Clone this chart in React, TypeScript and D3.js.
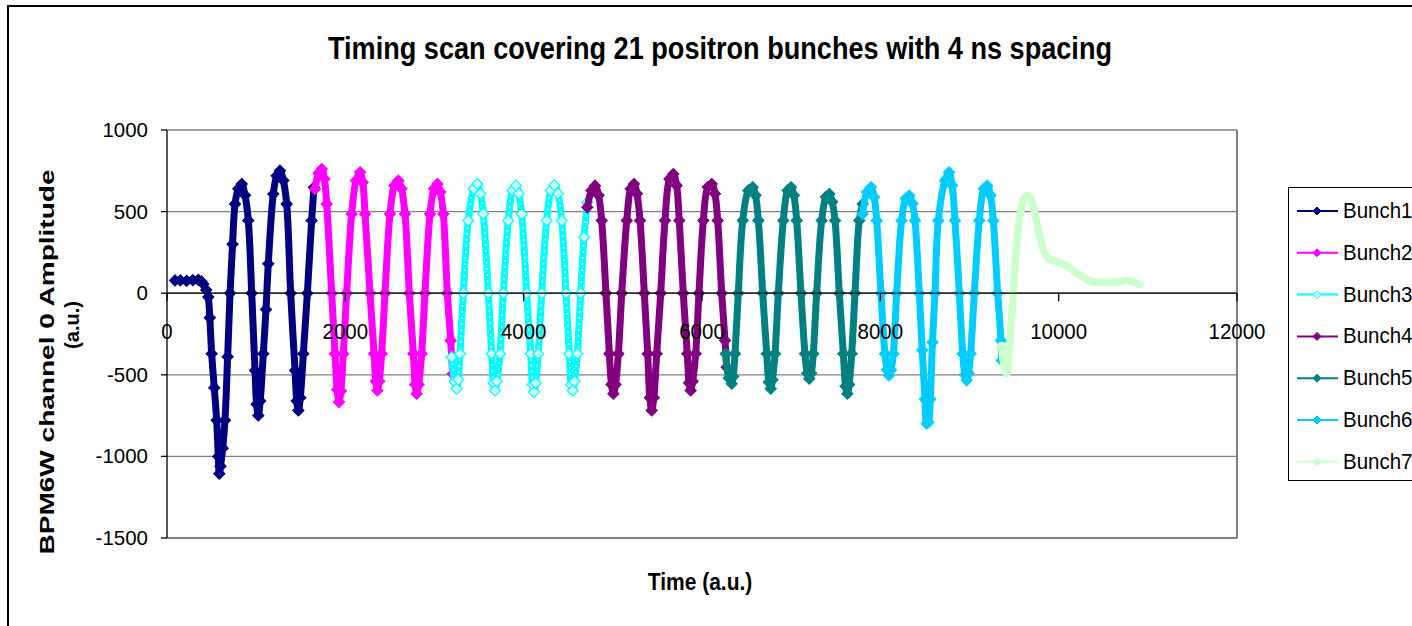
import React from "react";
import { scaleLinear, line, curveCatmullRom } from "d3";

// time (a.u.), amplitude (a.u.), one array per bunch group
const bunch1: [number, number][] = [
  [90, 78], [150, 78], [220, 76], [290, 80], [351, 82], [385, 72], [407, 57], [440, 20],
  [463, -24], [480, -150], [501, -371], [530, -580], [557, -779], [575, -1000], [587, -1106],
  [600, -1060], [625, -950], [650, -779], [680, -390], [707, 0], [735, 300], [763, 547],
  [800, 640], [838, 669], [875, 600], [912, 445], [950, 0], [987, -473], [1005, -680],
  [1024, -749], [1045, -660], [1080, -371], [1110, -100], [1136, 180], [1192, 608],
  [1230, 720], [1267, 751], [1305, 690], [1342, 547], [1387, 0], [1436, -473], [1455, -660],
  [1473, -718], [1495, -640], [1529, -371], [1574, 0], [1622, 445], [1649, 649],
];

const bunch2: [number, number][] = [
  [1660, 639], [1700, 735], [1735, 761], [1765, 700], [1791, 547], [1847, 0], [1884, -371],
  [1908, -590], [1929, -667], [1950, -600], [1977, -371], [2015, 0], [2071, 486], [2120, 690],
  [2165, 741], [2195, 680], [2221, 486], [2277, 0], [2322, -371], [2342, -540], [2359, -596],
  [2380, -540], [2407, -371], [2445, 0], [2501, 486], [2550, 660], [2594, 690], [2630, 640],
  [2669, 486], [2718, 0], [2763, -371], [2783, -560], [2800, -616], [2822, -560], [2856, -371],
  [2893, 0], [2950, 486], [2995, 640], [3032, 669], [3065, 620], [3099, 486], [3144, 0],
  [3181, -290], [3204, -494],
];

const bunch3: [number, number][] = [
  [3193, -392], [3225, -540], [3249, -585], [3265, -530], [3286, -371], [3323, 0], [3379, 445],
  [3440, 640], [3480, 669], [3515, 610], [3547, 486], [3604, 0], [3641, -371], [3662, -550],
  [3679, -596], [3700, -540], [3735, -371], [3772, 0], [3828, 445], [3875, 630], [3914, 659],
  [3945, 610], [3978, 486], [4034, 0], [4079, -371], [4100, -560], [4116, -606], [4135, -550],
  [4164, -371], [4202, 0], [4258, 445], [4305, 630], [4345, 662], [4385, 610], [4427, 445],
  [4475, 0], [4512, -371], [4532, -560], [4550, -596], [4570, -540], [4602, -371], [4640, 0],
  [4677, 343], [4714, 557],
];

const bunch4: [number, number][] = [
  [4714, 526], [4760, 630], [4800, 659], [4840, 600], [4875, 445], [4923, 0], [4961, -371],
  [4985, -560], [5006, -616], [5030, -560], [5062, -371], [5100, 0], [5156, 445], [5200, 640],
  [5237, 669], [5270, 610], [5305, 445], [5353, 0], [5391, -371], [5415, -640], [5436, -718],
  [5460, -640], [5492, -371], [5537, 0], [5585, 445], [5635, 700], [5678, 730], [5715, 660],
  [5745, 445], [5790, 0], [5835, -371], [5855, -550], [5873, -596], [5895, -540], [5929, -371],
  [5966, 0], [6015, 445], [6065, 650], [6109, 669], [6145, 610], [6176, 445], [6221, 0],
  [6258, -290], [6277, -453],
];

const bunch5: [number, number][] = [
  [6266, -371], [6300, -520], [6333, -555], [6350, -510], [6370, -371], [6407, 0], [6457, 445],
  [6520, 630], [6568, 649], [6600, 600], [6632, 445], [6681, 0], [6726, -371], [6750, -545],
  [6771, -585], [6790, -530], [6819, -371], [6856, 0], [6912, 445], [6960, 630], [6998, 649],
  [7030, 600], [7062, 445], [7110, 0], [7155, -371], [7180, -490], [7203, -524], [7225, -490],
  [7248, -371], [7286, 0], [7342, 445], [7390, 590], [7428, 608], [7460, 560], [7492, 445],
  [7540, 0], [7585, -371], [7610, -570], [7630, -616], [7650, -560], [7679, -371], [7716, 0],
  [7764, 445], [7802, 547],
];

const bunch6: [number, number][] = [
  [7802, 486], [7850, 620], [7895, 649], [7930, 590], [7959, 445], [8007, 0], [8052, -371],
  [8075, -470], [8097, -504], [8120, -470], [8146, -371], [8183, 0], [8239, 445], [8285, 580],
  [8325, 598], [8360, 550], [8389, 445], [8437, 0], [8470, -350], [8500, -650], [8520, -800],
  [8540, -790], [8560, -650], [8585, -300], [8613, 0], [8650, 445], [8725, 690], [8770, 741],
  [8805, 660], [8837, 445], [8886, 0], [8924, -371], [8948, -500], [8968, -534], [8990, -490],
  [9013, -371], [9054, 0], [9110, 445], [9160, 640], [9200, 659], [9235, 600], [9267, 445],
  [9316, 0], [9353, -290], [9361, -412],
];

const bunch7: [number, number][] = [
  [9361, -320], [9390, -450], [9417, -494], [9435, -420], [9454, -290], [9491, 0], [9536, 343],
  [9580, 520], [9620, 590], [9660, 598], [9700, 560], [9735, 486], [9791, 343], [9847, 241],
  [9890, 210], [9940, 200], [10000, 190], [10052, 180], [10110, 160], [10164, 139],
  [10220, 115], [10276, 98], [10350, 75], [10426, 67], [10520, 66], [10613, 67], [10700, 72],
  [10763, 78], [10830, 70], [10912, 51],
];

const seriesNames = ["Bunch1", "Bunch2", "Bunch3", "Bunch4", "Bunch5", "Bunch6", "Bunch7"];
const seriesData = [bunch1, bunch2, bunch3, bunch4, bunch5, bunch6, bunch7];
const seriesColors = ["#000080", "#FF00FF", "#00FFFF", "#800080", "#008080", "#00CCFF", "#CCFFCC"];
const markerFills = ["#000080", "#FF00FF", "#CCFFFF", "#800080", "#008080", "#00CCFF", "#CCFFCC"];

const xTicks = [0, 2000, 4000, 6000, 8000, 10000, 12000];
const yTicks = [-1500, -1000, -500, 0, 500, 1000];

const title = "Timing scan covering 21 positron bunches with 4 ns spacing";
const xTitle = "Time (a.u.)";
const yTitle = ["BPM6W channel 0 Amplitude", "(a.u.)"];

const FONT = "'Liberation Sans', Arial, sans-serif";
const diamond = (r: number) => `M0,${-r}L${r},0L0,${r}L${-r},0Z`;

const Series = ({ data, color, fill, x, y, i }) => {
  const path = line<[number, number]>()
    .x((d) => x(d[0]))
    .y((d) => y(d[1]))
    .curve(curveCatmullRom.alpha(0.5));
  const thick = i === 6 ? 7.5 : 7;
  return (
    <g>
      <path d={path(data) || ""} fill="none" stroke={color} strokeWidth={thick} strokeLinejoin="round" strokeLinecap="round" />
      {i === 2 && (
        <path d={path(data) || ""} fill="none" stroke="#CCFFFF" strokeWidth={1.5} strokeDasharray="2 4" />
      )}
      {i !== 6 &&
        data.map((d, k) => (
          <path
            key={k}
            d={diamond(5.5)}
            transform={`translate(${x(d[0])},${y(d[1])})`}
            fill={fill}
            stroke={color}
            strokeWidth={1.2}
          />
        ))}
    </g>
  );
};

export default function App() {
  const left = 167;
  const right = 1237;
  const top = 130;
  const bottom = 538;

  const x = scaleLinear().domain([0, 12000]).range([left, right]);
  const y = scaleLinear().domain([-1500, 1000]).range([bottom, top]);
  const y0 = y(0);

  return (
    <svg width={1412} height={626} style={{ position: "absolute", left: 0, top: 0, background: "#fff" }}>
      <rect x={8} y={6} width={1440} height={660} fill="#fff" stroke="#000" strokeWidth={2} />

      {/* title */}
      <g transform="translate(720,59) scale(1,1.14)">
        <text textAnchor="middle" fontFamily={FONT} fontWeight="bold" fontSize={27} textLength={784} lengthAdjust="spacingAndGlyphs">
          {title}
        </text>
      </g>

      {/* plot area: gridlines and frame */}
      <rect x={left} y={top} width={right - left} height={bottom - top} fill="#fff" />
      {yTicks.map((t) => (
        <line key={t} x1={left} x2={right} y1={y(t)} y2={y(t)} stroke="#808080" strokeWidth={t === -1500 ? 2 : 1.3} />
      ))}
      <line x1={right} x2={right} y1={top} y2={bottom} stroke="#808080" strokeWidth={2} />

      {/* series */}
      {seriesData.map((d, i) => (
        <Series key={i} data={d} color={seriesColors[i]} fill={markerFills[i]} x={x} y={y} i={i} />
      ))}

      {/* y axis */}
      <line x1={left} x2={left} y1={top} y2={bottom} stroke="#000" strokeWidth={1.3} />
      {yTicks.map((t) => (
        <g key={t}>
          <line x1={left - 6} x2={left} y1={y(t)} y2={y(t)} stroke="#000" strokeWidth={1.3} />
          <text x={148} y={y(t) + 7} textAnchor="end" fontFamily={FONT} fontSize={20.5} fill="#000">
            {t}
          </text>
        </g>
      ))}

      {/* x axis crossing at zero */}
      <line x1={left} x2={right} y1={y0} y2={y0} stroke="#000" strokeWidth={1.3} />
      {xTicks.map((t) => (
        <g key={t}>
          <line x1={x(t)} x2={x(t)} y1={y0} y2={y0 + 8} stroke="#000" strokeWidth={1.3} />
          <g transform={`translate(${x(t)},${y0 + 46}) scale(1,1.12)`}>
            <text textAnchor="middle" fontFamily={FONT} fontSize={20.5} fill="#000">
              {t}
            </text>
          </g>
        </g>
      ))}

      {/* axis titles */}
      <g transform="translate(700,590) scale(1,1.12)">
        <text textAnchor="middle" fontFamily={FONT} fontWeight="bold" fontSize={21}>
          {xTitle}
        </text>
      </g>
      <text
        transform="translate(54,362) rotate(-90)"
        textAnchor="middle"
        fontFamily={FONT}
        fontWeight="bold"
        fontSize={20}
        textLength={385}
        lengthAdjust="spacingAndGlyphs"
      >
        {yTitle[0]}
      </text>
      <text transform="translate(79,325) rotate(-90)" textAnchor="middle" fontFamily={FONT} fontWeight="bold" fontSize={20}>
        {yTitle[1]}
      </text>

      {/* legend */}
      <rect x={1288.5} y={187.5} width={200} height={293} fill="#fff" stroke="#000" strokeWidth={1} />
      {seriesNames.map((n, i) => {
        const ly = 211 + i * 41.8;
        return (
          <g key={n}>
            <line x1={1297} x2={1338} y1={ly} y2={ly} stroke={seriesColors[i]} strokeWidth={2} />
            <path d={diamond(4)} transform={`translate(1317,${ly})`} fill={markerFills[i]} stroke={seriesColors[i]} strokeWidth={1} />
            <g transform={`translate(1343,${ly + 7}) scale(1,1.12)`}>
              <text fontFamily={FONT} fontSize={20.5} fill="#000">
                {n}
              </text>
            </g>
          </g>
        );
      })}
    </svg>
  );
}
